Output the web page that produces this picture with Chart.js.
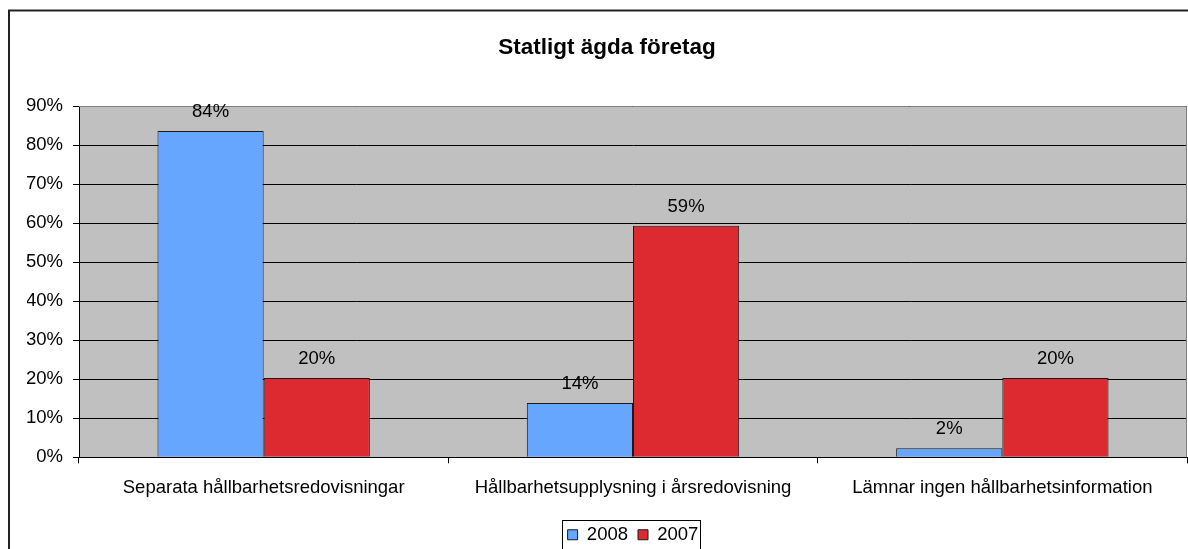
<!DOCTYPE html>
<html lang="sv">
<head>
  <meta charset="UTF-8">
  <title>Statligt ägda företag</title>
  <script src="https://cdn.jsdelivr.net/npm/chart.js"></script>
  <style>
    html,body { margin:0; padding:0; background:#fff; overflow:hidden; }
    #wrap { width:1188px; height:549px; }
  </style>
</head>
<body>
<div id="wrap"><canvas id="chart" width="1188" height="549"></canvas></div>

<script>
  // data
  const categories = ["Separata hållbarhetsredovisningar", "Hållbarhetsupplysning i årsredovisning", "Lämnar ingen hållbarhetsinformation"];
  const values2008 = [83.6, 13.9, 2.3];
  const values2007 = [20.3, 59.3, 20.3];
  const seriesNames = ["2008", "2007"];
  const yMax = 90, yStep = 10;

  const FONT = "'Liberation Sans', Arial, sans-serif";
  const fs = 18.5;

  // grey plot background, outer frame, grey top/right edge, legend box
  const framePlugin = {
    id: "frame",
    beforeDraw(c) {
      const ctx = c.ctx, a = c.chartArea;
      ctx.save();
      ctx.fillStyle = "#fff";
      ctx.fillRect(0, 0, c.width, c.height);
      ctx.fillStyle = "#c0c0c0";
      ctx.fillRect(a.left, a.top, a.right - a.left, a.bottom - a.top);
      ctx.strokeStyle = "#222";
      ctx.lineWidth = 2;
      ctx.strokeRect(9, 10.5, c.width + 20, c.height + 20);
      ctx.restore();
    },
    beforeDatasetsDraw(c) {
      const ctx = c.ctx, a = c.chartArea;
      ctx.save();
      ctx.strokeStyle = "#808080";
      ctx.lineWidth = 1;
      ctx.beginPath();
      ctx.moveTo(a.left, a.top + 0.5);
      ctx.lineTo(a.right - 0.5, a.top + 0.5);
      ctx.lineTo(a.right - 0.5, a.bottom);
      ctx.stroke();
      ctx.restore();
    },
    afterDraw(c) {
      const hb = c.legend.legendHitBoxes;
      if (!hb || !hb.length) return;
      const l = Math.min(...hb.map(h => h.left)) - 6;
      const r = Math.max(...hb.map(h => h.left + h.width)) + 1;
      const t = Math.min(...hb.map(h => h.top)) - 6;
      const ctx = c.ctx;
      ctx.save();
      ctx.strokeStyle = "#000";
      ctx.lineWidth = 1;
      ctx.strokeRect(Math.round(l) + 0.5, Math.round(t) + 0.5, Math.round(r - l), c.height);
      ctx.restore();
    }
  };

  // value labels over bars
  const labelPlugin = {
    id: "barLabels",
    afterDatasetsDraw(c) {
      const ctx = c.ctx;
      ctx.save();
      ctx.font = fs + "px " + FONT;
      ctx.fillStyle = "#000";
      ctx.textAlign = "center";
      ctx.textBaseline = "alphabetic";
      c.data.datasets.forEach((ds, i) => {
        c.getDatasetMeta(i).data.forEach((bar, j) => {
          ctx.fillText(Math.round(ds.data[j]) + "%", bar.x, bar.y - 14);
        });
      });
      ctx.restore();
    }
  };

  new Chart(document.getElementById("chart"), {
    type: "bar",
    data: {
      labels: categories,
      datasets: [
        { label: seriesNames[0], data: values2008, backgroundColor: "#66a6ff", borderColor: "#1a1a1a", borderWidth: 1 },
        { label: seriesNames[1], data: values2007, backgroundColor: "#dc2a30", borderColor: "#1a1a1a", borderWidth: 1 }
      ]
    },
    options: {
      responsive: false,
      animation: false,
      layout: { padding: { left: 27, right: 1, top: 0, bottom: -5 } },
      datasets: { bar: { categoryPercentage: 0.575, barPercentage: 1 } },
      plugins: {
        title: {
          display: true,
          text: "Statligt ägda företag",
          color: "#000",
          font: { family: FONT, size: 22.5, weight: "bold" },
          padding: { top: 34.5, bottom: 44.5 }
        },
        legend: {
          position: "bottom",
          fullSize: false,
          labels: {
            color: "#000",
            font: { family: FONT, size: fs },
            boxWidth: 10,
            boxHeight: 10,
            padding: 10
          }
        },
        tooltip: { enabled: false }
      },
      scales: {
        x: {
          afterFit: s => { s.height += 2; },
          grid: { offset: true, drawOnChartArea: false, tickLength: 6, color: "#000" },
          border: { color: "#000" },
          ticks: { color: "#000", font: { family: FONT, size: fs }, padding: 14, maxRotation: 0 }
        },
        y: {
          min: 0,
          max: yMax,
          afterFit: s => { s.width = 52; },
          grid: { color: "#000", tickLength: 6 },
          border: { color: "#000" },
          ticks: { stepSize: yStep, color: "#000", font: { family: FONT, size: fs }, padding: 10, callback: v => v + "%" }
        }
      }
    },
    plugins: [framePlugin, labelPlugin]
  });
</script>
</body>
</html>
